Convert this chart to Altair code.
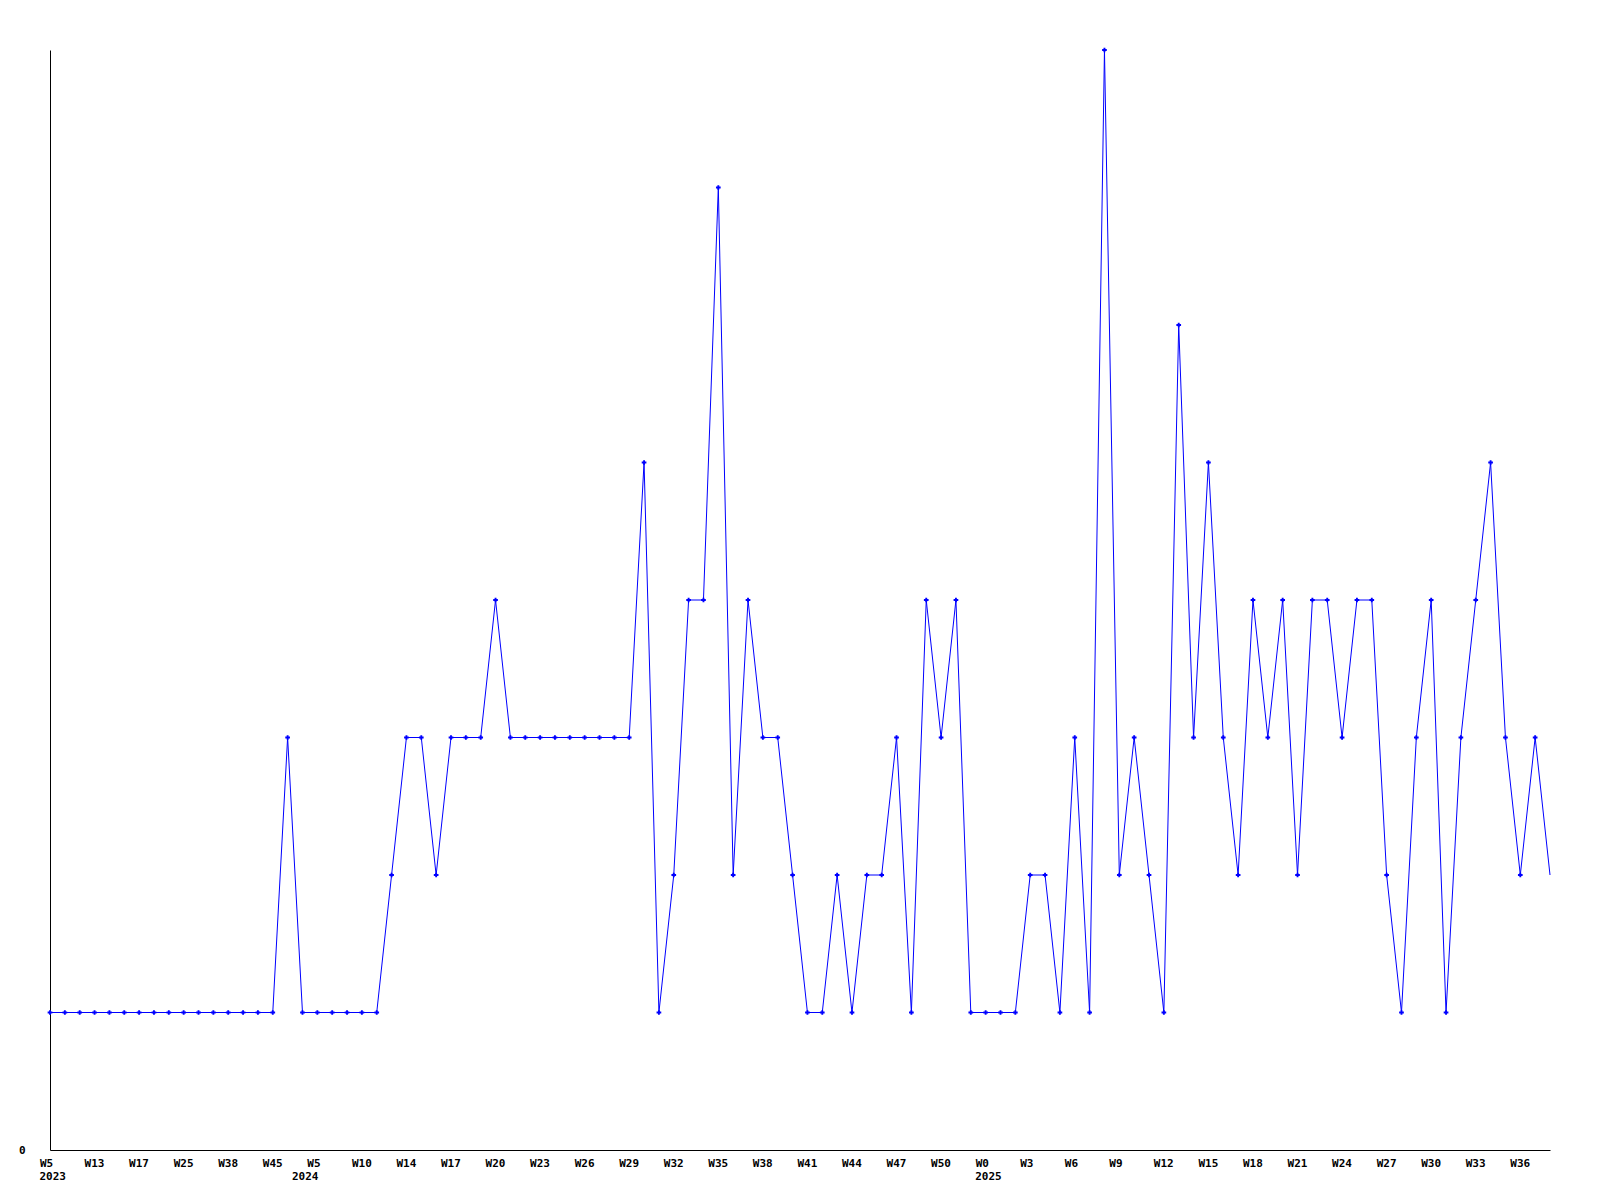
import altair as alt
import pandas as pd

# weekly values (index = position along the x axis)
values = [
    1, 1, 1, 1, 1, 1, 1, 1, 1, 1, 1, 1, 1, 1, 1, 1,
    3,
    1, 1, 1, 1, 1, 1,
    2, 3, 3, 2, 3, 3, 3, 4,
    3, 3, 3, 3, 3, 3, 3, 3, 3,
    5, 1, 2, 4, 4, 7, 2, 4, 3, 3, 2, 1, 1, 2, 1, 2, 2, 3, 1, 4, 3, 4,
    1, 1, 1, 1, 2, 2, 1, 3, 1, 8, 2, 3, 2, 1, 6, 3, 5, 3, 2, 4, 3, 4,
    2, 4, 4, 3, 4, 4, 2, 1, 3, 4, 1, 3, 4, 5, 3, 2, 3, 2,
]

# x-axis tick labels (every third point)
tick_index = [0, 3, 6, 9, 12, 15, 18, 21, 24, 27, 30, 33, 36, 39, 42, 45, 48,
              51, 54, 57, 60, 63, 66, 69, 72, 75, 78, 81, 84, 87, 90, 93, 96, 99]
tick_labels = ["W5", "W13", "W17", "W25", "W38", "W45", "W5", "W10", "W14",
               "W17", "W20", "W23", "W26", "W29", "W32", "W35", "W38", "W41",
               "W44", "W47", "W50", "W0", "W3", "W6", "W9", "W12", "W15", "W18",
               "W21", "W24", "W27", "W30", "W33", "W36"]

# year labels and the point where each year starts
years = ["2023", "2024", "2025"]
year_index = [0, 17, 63]

df = pd.DataFrame({"i": list(range(len(values))), "v": values})
df_years = pd.DataFrame({"i": year_index, "year": years})

FONT = "DejaVu Sans Mono"
BLUE = "#0000ff"

label_expr = "{}[indexof({}, datum.value)]".format(
    "[" + ",".join("'%s'" % s for s in tick_labels) + "]",
    "[" + ",".join(str(t) for t in tick_index) + "]",
)

x_enc = alt.X(
    "i:Q",
    scale=alt.Scale(domain=[0, len(values) - 1], nice=False, zero=False),
    axis=alt.Axis(
        title=None,
        values=tick_index,
        labelExpr=label_expr,
        ticks=False,
        tickSize=0,
        grid=False,
        domainColor="black",
        domainWidth=1,
        labelAlign="left",
        labelBaseline="top",
        labelOffset=-10.5,
        labelPadding=7,
        labelFont=FONT,
        labelFontWeight="bold",
        labelFontSize=11,
        labelColor="black",
        labelOverlap=False,
        labelFlush=False,
    ),
)

y_enc = alt.Y(
    "v:Q",
    scale=alt.Scale(domain=[0, 8], nice=False, zero=True),
    axis=alt.Axis(
        title=None,
        values=[0],
        ticks=False,
        tickSize=0,
        grid=False,
        domainColor="black",
        domainWidth=1,
        labelPadding=25,
        labelFont=FONT,
        labelFontWeight="bold",
        labelFontSize=11,
        labelColor="black",
        labelFlush=False,
    ),
)

line = alt.Chart(df).mark_line(color=BLUE, strokeWidth=1).encode(x=x_enc, y=y_enc)

points = (
    alt.Chart(df)
    .transform_filter(alt.datum.i < len(values) - 1)
    .mark_point(shape="cross", filled=True, size=22, color=BLUE, opacity=1)
    .encode(x=x_enc, y=y_enc)
)

year_text = (
    alt.Chart(df_years)
    .mark_text(
        align="left",
        baseline="top",
        dx=-10.5,
        font=FONT,
        fontWeight="bold",
        fontSize=11,
        color="black",
    )
    .encode(x=x_enc, y=alt.value(1121), text="year:N")
)

chart = (
    alt.layer(line, points, year_text)
    .properties(
        width=1500,
        height=1100,
        autosize=alt.AutoSizeParams(type="none"),
        padding={"left": 42, "top": 42, "right": 42, "bottom": 50},
        background="white",
    )
    .configure_view(stroke=None)
)

chart.save("out.html", embed_options={"renderer": "svg", "actions": False})
